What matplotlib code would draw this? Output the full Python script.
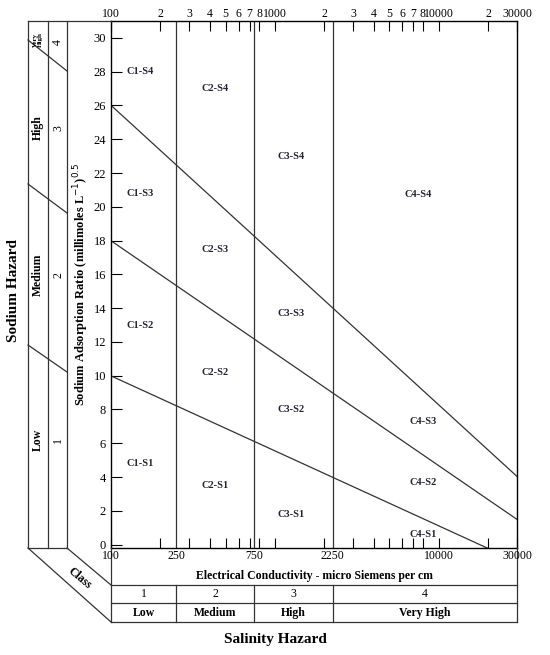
import numpy as np
import matplotlib
matplotlib.use("Agg")
import matplotlib.pyplot as plt
from matplotlib.lines import Line2D

plt.rcParams['font.family'] = ['Liberation Serif', 'DejaVu Serif']

W, H = 550, 655
class_bounds = [100, 250, 750, 2250, 30000]
class_nums = ['1', '2', '3', '4']
class_names = ['Low', 'Medium', 'High', 'Very High']
bottom_labels = [100, 250, 750, 2250, 10000, 30000]
# SAR boundary lines: SAR = a - b*log10(EC)
line_a = [43.75, 31.31, 18.87]
line_b = [8.87, 6.66, 4.44]
regions = [("C1-S4", 150, 28), ("C2-S4", 430, 27), ("C3-S4", 1250, 23), ("C4-S4", 7500, 20.7),
           ("C1-S3", 150, 20.8), ("C2-S3", 430, 17.5), ("C3-S3", 1250, 13.7), ("C4-S3", 8000, 7.3),
           ("C1-S2", 150, 13), ("C2-S2", 430, 10.2), ("C3-S2", 1250, 8), ("C4-S2", 8000, 3.7),
           ("C1-S1", 150, 4.8), ("C2-S1", 430, 3.5), ("C3-S1", 1250, 1.8), ("C4-S1", 8000, 0.6)]

fig = plt.figure(figsize=(5.5, 6.55), dpi=100)
L, R, T, B = 111, 517, 21, 548
ax = fig.add_axes([L / W, 1 - B / H, (R - L) / W, (B - T) / H])
ax.set_xscale('log')
ax.set_xlim(100, 30000)
ax.set_ylim(-0.2, 31)

for a, b in zip(line_a, line_b):
    x = np.logspace(2, np.log10(30000), 200)
    y = a - b * np.log10(x)
    ax.plot(x, y, color='#333', lw=0.9)
for v in class_bounds[1:-1]:
    ax.axvline(v, color='#333', lw=0.9)
for t, x, y in regions:
    ax.text(x, y, t, fontsize=7.5, fontweight='bold', ha='center', va='center', color='#223')

ax.set_yticks(range(0, 31, 2))
ax.tick_params(axis='y', direction='in', right=False, labelsize=9, length=8)
ax.tick_params(axis='y', which='minor', left=False)
top_ticks = [100, 200, 300, 400, 500, 600, 700, 800, 1000, 2000, 3000, 4000, 5000, 6000, 7000, 8000, 10000, 20000, 30000]
top_labels = ['100', '2', '3', '4', '5', '6', '7', '8', '1000', '2', '3', '4', '5', '6', '7', '8', '10000', '2', '30000']
ax.set_xticks(top_ticks, top_labels)
ax.xaxis.set_minor_locator(matplotlib.ticker.NullLocator())
ax.tick_params(axis='x', direction='in', top=True, bottom=True, labeltop=True, labelbottom=False,
               labelsize=8.5, length=7, pad=1)
for s in ax.spines.values():
    s.set_linewidth(1.0)

ax.set_ylabel('Sodium Adsorption Ratio (millimoles L$^{-1}$)$^{0.5}$', fontsize=9, fontweight='bold', labelpad=2)

def fx(px): return px / W
def fy(py): return 1 - py / H
def fl(x0, y0, x1, y1):
    fig.add_artist(Line2D([fx(x0), fx(x1)], [fy(y0), fy(y1)], color='#333', lw=0.9))

def xpix(v):
    return L + (np.log10(v) - 2) / (np.log10(30000) - 2) * (R - L)

# bottom box
for yy in [585, 603, 622]:
    fl(L, yy, R, yy)
fl(R, B, R, 622)
fl(L, B, L, 622)
for v in class_bounds[1:-1]:
    fl(xpix(v), 585, xpix(v), 622)
for v in bottom_labels:
    fig.text(fx(xpix(v)), fy(556), str(v), fontsize=8.5, ha='center', va='center')
fig.text(fx((L + R) / 2), fy(576), 'Electrical Conductivity - micro Siemens per cm', fontsize=8.5,
         fontweight='bold', ha='center', va='center')
for i in range(4):
    xc = (xpix(class_bounds[i]) + xpix(class_bounds[i + 1])) / 2
    fig.text(fx(xc), fy(594), class_nums[i], fontsize=8.5, ha='center', va='center')
    fig.text(fx(xc), fy(613), class_names[i], fontsize=8.5, fontweight='bold', ha='center', va='center')
fl(28, B, L, 622)
fl(67, B, L, 585)
fig.text(fx(80), fy(578), 'Class', fontsize=8.5, fontweight='bold', rotation=-40, ha='center', va='center')

# left panel
fl(28, T, L, T)
fl(28, T, 28, B)
fl(48, T, 48, B)
fl(67, T, 67, B)
fl(28, B, 67, B)
fl(28, 40, 67, 71)
fl(28, 184, 67, 213)
fl(28, 345, 67, 372)
fig.text(fx(38), fy(40), 'Very\nHigh', fontsize=5, fontweight='bold', rotation=90, ha='center', va='center', linespacing=0.9)
fig.text(fx(38), fy(128), 'High', fontsize=8.5, fontweight='bold', rotation=90, ha='center', va='center')
fig.text(fx(38), fy(275), 'Medium', fontsize=8.5, fontweight='bold', rotation=90, ha='center', va='center')
fig.text(fx(38), fy(440), 'Low', fontsize=8.5, fontweight='bold', rotation=90, ha='center', va='center')
for t, py in [('4', 42), ('3', 128), ('2', 275), ('1', 440)]:
    fig.text(fx(58), fy(py), t, fontsize=8.5, rotation=90, ha='center', va='center')

fig.text(fx(14), fy(290), 'Sodium Hazard', fontsize=11, fontweight='bold', rotation=90, ha='center', va='center')
fig.text(fx(275), fy(640), 'Salinity Hazard', fontsize=11, fontweight='bold', ha='center', va='center')

fig.savefig('out.png', dpi=100)
